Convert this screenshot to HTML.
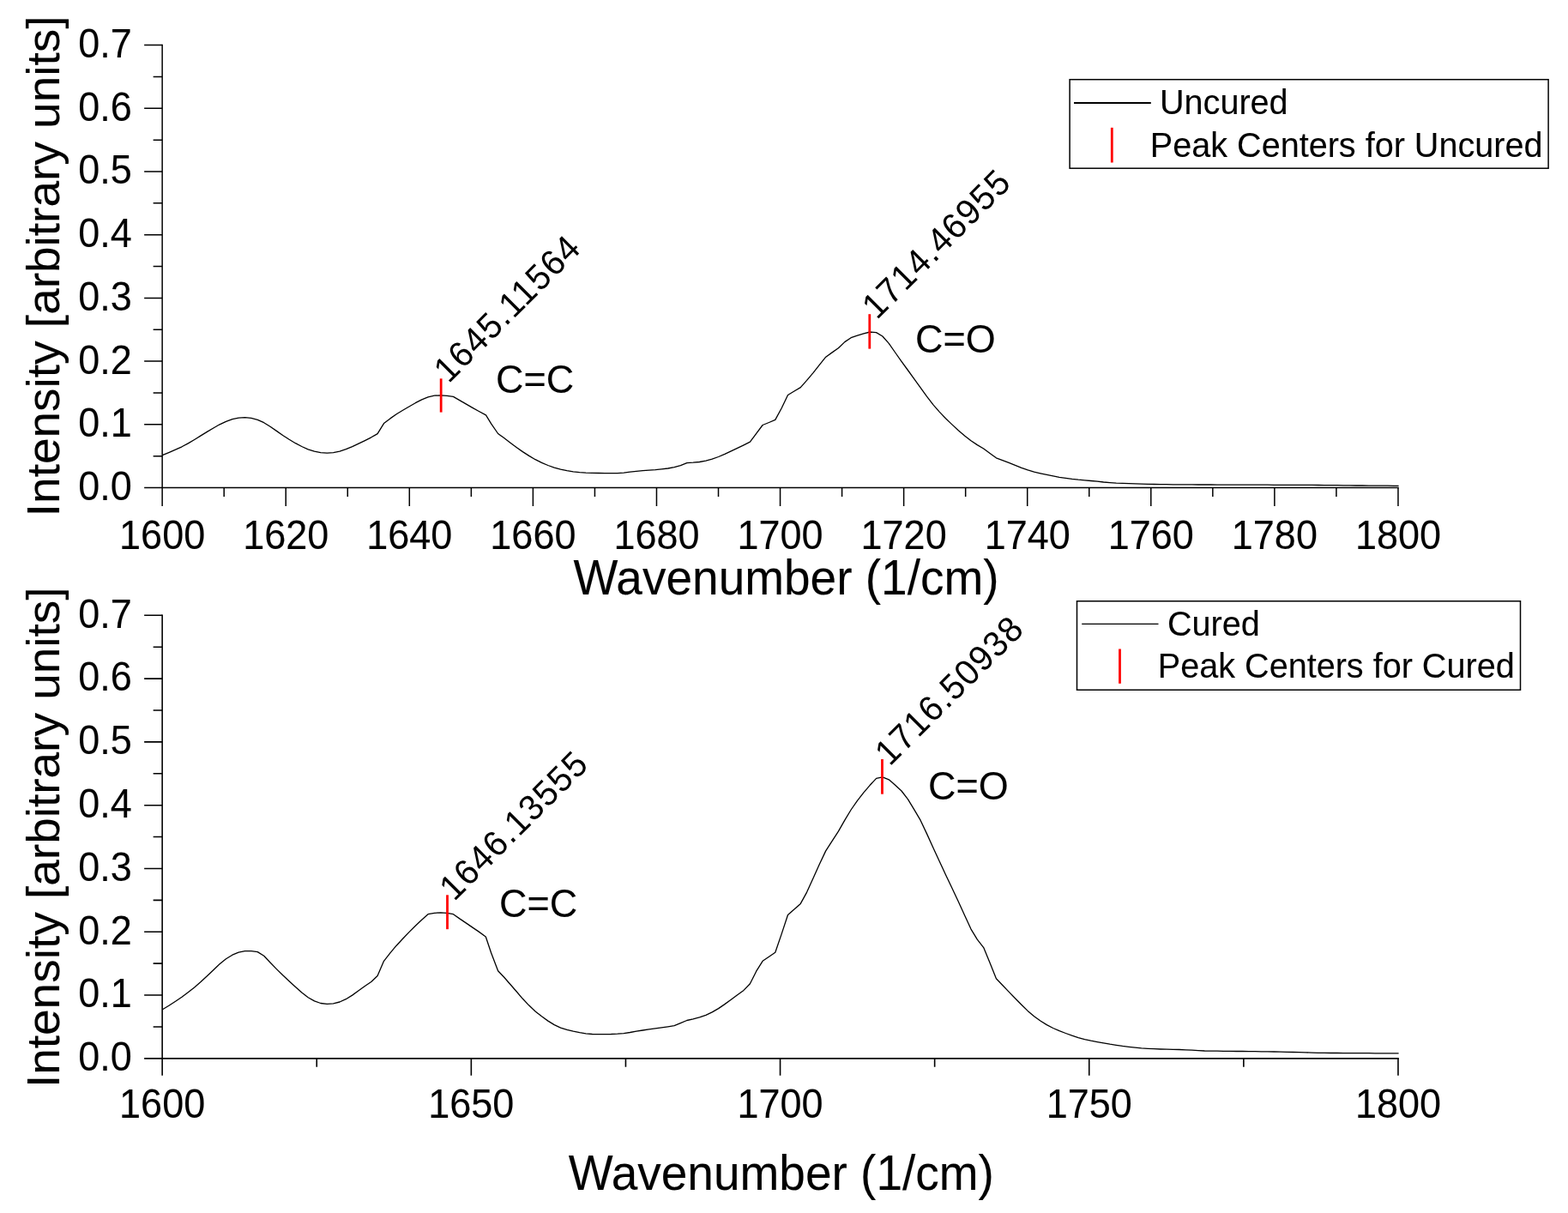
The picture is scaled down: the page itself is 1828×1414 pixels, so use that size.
<!DOCTYPE html>
<html lang="en">
<head>
<meta charset="utf-8">
<title>Raman spectra: Uncured vs Cured</title>
<style>
html,body{margin:0;padding:0;background:#fff;}
body{width:1828px;height:1414px;overflow:hidden;}
svg{display:block;}
svg text{font-family:"Liberation Sans", sans-serif;fill:#000;stroke:#000;stroke-width:0.1px;stroke-linejoin:round;}
</style>
</head>
<body>
<svg width="1828" height="1414" viewBox="0 0 1828 1414">
<rect width="1828" height="1414" fill="#fff"/>
<g id="chart-uncured">
<path d="M189.15 51.85V568.50" stroke="#000" stroke-width="1.5" fill="none"/>
<path d="M168.15 568.50H1630.70" stroke="#000" stroke-width="1.5" fill="none"/>
<path d="M178.65 531.65H189.15M168.15 494.80H189.15M178.65 457.95H189.15M168.15 421.10H189.15M178.65 384.25H189.15M168.15 347.40H189.15M178.65 310.55H189.15M168.15 273.70H189.15M178.65 236.85H189.15M168.15 200.00H189.15M178.65 163.15H189.15M168.15 126.30H189.15M178.65 89.45H189.15M168.15 52.60H189.15" stroke="#000" stroke-width="1.5" fill="none"/>
<path d="M189.15 568.50V589.90M261.19 568.50V579.10M333.23 568.50V589.90M405.27 568.50V579.10M477.31 568.50V589.90M549.35 568.50V579.10M621.39 568.50V589.90M693.43 568.50V579.10M765.47 568.50V589.90M837.51 568.50V579.10M909.55 568.50V589.90M981.59 568.50V579.10M1053.63 568.50V589.90M1125.67 568.50V579.10M1197.71 568.50V589.90M1269.75 568.50V579.10M1341.79 568.50V589.90M1413.83 568.50V579.10M1485.87 568.50V589.90M1557.91 568.50V579.10M1629.95 568.50V589.90" stroke="#000" stroke-width="1.5" fill="none"/>
<g class="y-tick-labels">
<text font-size="45" text-anchor="end" transform="translate(153.70 582.90) scale(1 1.05)">0.0</text>
<text font-size="45" text-anchor="end" transform="translate(153.70 509.20) scale(1 1.05)">0.1</text>
<text font-size="45" text-anchor="end" transform="translate(153.70 435.50) scale(1 1.05)">0.2</text>
<text font-size="45" text-anchor="end" transform="translate(153.70 361.80) scale(1 1.05)">0.3</text>
<text font-size="45" text-anchor="end" transform="translate(153.70 288.10) scale(1 1.05)">0.4</text>
<text font-size="45" text-anchor="end" transform="translate(153.70 214.40) scale(1 1.05)">0.5</text>
<text font-size="45" text-anchor="end" transform="translate(153.70 140.70) scale(1 1.05)">0.6</text>
<text font-size="45" text-anchor="end" transform="translate(153.70 67.00) scale(1 1.05)">0.7</text>
</g>
<g class="x-tick-labels">
<text font-size="45" text-anchor="middle" transform="translate(189.15 639.80) scale(1 1.05)">1600</text>
<text font-size="45" text-anchor="middle" transform="translate(333.23 639.80) scale(1 1.05)">1620</text>
<text font-size="45" text-anchor="middle" transform="translate(477.31 639.80) scale(1 1.05)">1640</text>
<text font-size="45" text-anchor="middle" transform="translate(621.39 639.80) scale(1 1.05)">1660</text>
<text font-size="45" text-anchor="middle" transform="translate(765.47 639.80) scale(1 1.05)">1680</text>
<text font-size="45" text-anchor="middle" transform="translate(909.55 639.80) scale(1 1.05)">1700</text>
<text font-size="45" text-anchor="middle" transform="translate(1053.63 639.80) scale(1 1.05)">1720</text>
<text font-size="45" text-anchor="middle" transform="translate(1197.71 639.80) scale(1 1.05)">1740</text>
<text font-size="45" text-anchor="middle" transform="translate(1341.79 639.80) scale(1 1.05)">1760</text>
<text font-size="45" text-anchor="middle" transform="translate(1485.87 639.80) scale(1 1.05)">1780</text>
<text font-size="45" text-anchor="middle" transform="translate(1629.95 639.80) scale(1 1.05)">1800</text>
</g>
<text font-size="55" transform="translate(668.50 692.90) scale(1 1.03)">Wavenumber (1/cm)</text>
<text font-size="55" transform="translate(68.70 602.20) rotate(-90) scale(1 0.985)">Intensity [arbitrary units]</text>
<path d="M189.2 530.5L189.9 530.3L197.3 527.3L204.6 524.2L212.0 520.8L219.3 516.9L226.7 512.5L234.1 507.9L241.4 503.4L248.8 499.0L256.1 494.8L263.5 491.3L270.9 488.7L278.2 487.2L285.6 486.7L292.9 487.4L300.3 489.3L307.7 492.7L315.0 497.3L322.4 502.4L329.7 507.5L337.1 512.3L344.5 516.7L351.8 520.5L359.2 523.8L366.5 526.2L373.9 527.7L381.3 528.2L388.6 527.6L396.0 526.1L403.3 523.7L410.7 520.7L418.1 517.2L425.4 513.6L432.8 509.8L440.1 505.6L447.5 493.6L454.9 487.9L462.2 482.8L469.6 478.3L476.9 474.0L484.3 469.7L491.7 465.8L499.0 462.8L506.4 461.2L513.7 460.8L521.1 461.3L528.5 462.4L535.8 466.6L543.2 470.9L550.5 475.1L557.9 479.2L566.5 483.9L572.6 493.9L580.6 505.5L587.3 510.3L594.7 515.9L602.1 521.4L609.4 526.6L616.8 531.4L624.1 535.7L631.5 539.4L638.9 542.5L646.2 545.1L653.6 547.1L660.9 548.7L668.3 549.9L675.7 550.7L683.0 551.2L690.4 551.4L697.7 551.5L705.1 551.6L712.5 551.7L719.8 551.6L727.2 551.1L734.5 550.2L741.9 549.3L749.3 548.7L756.6 548.2L764.0 547.7L771.3 546.9L778.7 546.0L786.1 544.7L793.4 542.6L800.8 539.7L808.1 539.2L815.5 538.5L822.9 537.1L830.2 535.1L837.6 532.5L844.9 529.3L852.3 525.8L859.7 522.3L867.0 518.8L874.4 515.2L881.7 505.4L889.1 495.5L896.5 492.5L903.8 489.4L911.2 475.8L918.5 460.5L925.9 456.0L933.3 451.6L940.6 443.4L948.0 434.6L955.3 425.4L962.7 416.2L970.1 410.9L977.4 405.8L984.8 398.6L992.1 393.7L999.5 391.1L1006.9 388.9L1014.2 387.0L1021.6 387.6L1028.9 392.0L1036.3 400.4L1043.7 411.0L1051.0 421.4L1058.4 431.5L1065.7 441.7L1073.1 451.9L1080.5 462.1L1087.8 471.6L1095.2 480.1L1102.5 487.8L1109.9 494.9L1117.3 501.7L1124.6 508.0L1132.0 513.7L1139.3 518.6L1146.7 523.0L1154.1 528.5L1161.4 533.8L1168.8 536.6L1176.1 539.4L1183.5 542.4L1190.9 545.3L1198.2 547.9L1205.6 550.1L1212.9 551.8L1220.3 553.4L1227.7 554.9L1235.0 556.3L1242.4 557.4L1249.7 558.4L1257.1 559.2L1264.5 559.8L1271.8 560.5L1279.2 561.2L1286.5 562.0L1293.9 562.6L1301.3 563.1L1308.6 563.4L1316.0 563.7L1323.3 563.9L1330.7 564.1L1338.1 564.4L1345.4 564.5L1352.8 564.6L1360.1 564.7L1367.5 564.8L1374.9 564.8L1382.2 564.9L1389.6 564.9L1396.9 565.0L1404.3 565.0L1411.7 565.0L1419.0 565.1L1426.4 565.1L1433.7 565.1L1441.1 565.1L1448.5 565.1L1455.8 565.2L1463.2 565.2L1470.5 565.2L1477.9 565.2L1485.3 565.3L1492.6 565.3L1500.0 565.3L1507.3 565.3L1514.7 565.4L1522.1 565.4L1529.4 565.4L1536.8 565.5L1544.1 565.6L1551.5 565.7L1558.9 565.7L1566.2 565.8L1573.6 565.9L1580.9 566.0L1588.3 566.0L1595.7 566.1L1603.0 566.1L1610.4 566.2L1617.7 566.2L1625.1 566.3L1630.6 566.4" stroke="#000" stroke-width="1.3" fill="none" stroke-linejoin="round"/>
<rect x="1247.1" y="92.7" width="558.0" height="103.5" fill="#fff" stroke="#000" stroke-width="1.5"/>
<path d="M1252.0 120.0H1341.8" stroke="#000" stroke-width="1.9"/>
<path d="M1296.3 148.8V189.5" stroke="#f00" stroke-width="2.8"/>
<text font-size="39.6" transform="translate(1352.00 133.30) scale(1 1.03)">Uncured</text>
<text font-size="39.6" transform="translate(1340.80 182.60) scale(1 1.03)">Peak Centers for Uncured</text>
<path d="M514.16 441.3V480.6" stroke="#f00" stroke-width="2.8"/>
<text font-size="40" letter-spacing="1.35" style="stroke-width:0px" transform="translate(522.90 447.80) rotate(-45) scale(1 1.04)">1645.11564</text>
<text font-size="45" transform="translate(578.00 457.50) scale(1 1.03)">C=C</text>
<path d="M1013.79 366.2V406.6" stroke="#f00" stroke-width="2.8"/>
<text font-size="40" letter-spacing="1.35" style="stroke-width:0px" transform="translate(1022.20 373.60) rotate(-45) scale(1 1.04)">1714.46955</text>
<text font-size="45" transform="translate(1067.00 411.00) scale(1 1.03)">C=O</text>
</g>
<g id="chart-cured">
<path d="M189.15 716.50V1233.85" stroke="#000" stroke-width="1.6" fill="none"/>
<path d="M168.15 1233.85H1630.75" stroke="#000" stroke-width="1.6" fill="none"/>
<path d="M178.65 1196.95H189.15M168.15 1160.06H189.15M178.65 1123.16H189.15M168.15 1086.26H189.15M178.65 1049.37H189.15M168.15 1012.47H189.15M178.65 975.57H189.15M168.15 938.68H189.15M178.65 901.78H189.15M168.15 864.89H189.15M178.65 827.99H189.15M168.15 791.09H189.15M178.65 754.20H189.15M168.15 717.30H189.15" stroke="#000" stroke-width="1.6" fill="none"/>
<path d="M189.15 1233.85V1253.85M369.25 1233.85V1243.75M549.35 1233.85V1253.85M729.45 1233.85V1243.75M909.55 1233.85V1253.85M1089.65 1233.85V1243.75M1269.75 1233.85V1253.85M1449.85 1233.85V1243.75M1629.95 1233.85V1253.85" stroke="#000" stroke-width="1.6" fill="none"/>
<g class="y-tick-labels">
<text font-size="45" text-anchor="end" transform="translate(153.70 1248.25) scale(1 1.05)">0.0</text>
<text font-size="45" text-anchor="end" transform="translate(153.70 1174.46) scale(1 1.05)">0.1</text>
<text font-size="45" text-anchor="end" transform="translate(153.70 1100.66) scale(1 1.05)">0.2</text>
<text font-size="45" text-anchor="end" transform="translate(153.70 1026.87) scale(1 1.05)">0.3</text>
<text font-size="45" text-anchor="end" transform="translate(153.70 953.08) scale(1 1.05)">0.4</text>
<text font-size="45" text-anchor="end" transform="translate(153.70 879.29) scale(1 1.05)">0.5</text>
<text font-size="45" text-anchor="end" transform="translate(153.70 805.49) scale(1 1.05)">0.6</text>
<text font-size="45" text-anchor="end" transform="translate(153.70 731.70) scale(1 1.05)">0.7</text>
</g>
<g class="x-tick-labels">
<text font-size="45" text-anchor="middle" transform="translate(189.15 1303.10) scale(1 1.05)">1600</text>
<text font-size="45" text-anchor="middle" transform="translate(549.35 1303.10) scale(1 1.05)">1650</text>
<text font-size="45" text-anchor="middle" transform="translate(909.55 1303.10) scale(1 1.05)">1700</text>
<text font-size="45" text-anchor="middle" transform="translate(1269.75 1303.10) scale(1 1.05)">1750</text>
<text font-size="45" text-anchor="middle" transform="translate(1629.95 1303.10) scale(1 1.05)">1800</text>
</g>
<text font-size="55" transform="translate(662.80 1386.70) scale(1 1.03)">Wavenumber (1/cm)</text>
<text font-size="55" transform="translate(69.20 1268.10) rotate(-90) scale(1 0.985)">Intensity [arbitrary units]</text>
<path d="M189.2 1176.9L189.9 1176.5L197.3 1172.0L204.6 1167.3L212.0 1162.3L219.3 1156.8L226.7 1150.9L234.1 1144.5L241.4 1137.8L248.8 1130.7L256.1 1123.7L263.5 1117.7L270.9 1113.2L278.2 1110.2L285.6 1108.6L292.9 1108.6L300.3 1109.6L307.7 1114.3L315.0 1122.0L322.4 1129.6L329.7 1136.8L337.1 1143.7L344.5 1150.5L351.8 1157.0L359.2 1162.7L366.5 1166.9L373.9 1169.5L381.3 1170.4L388.6 1169.9L396.0 1168.0L403.3 1164.7L410.7 1160.1L418.1 1154.8L425.4 1149.5L432.8 1144.5L440.1 1137.5L447.5 1120.3L454.9 1110.9L462.2 1102.2L469.6 1094.3L476.9 1086.6L484.3 1079.2L491.7 1072.2L499.0 1065.7L506.4 1064.3L513.7 1063.8L521.1 1064.4L528.5 1065.7L535.8 1070.9L543.2 1075.9L550.5 1080.9L557.9 1085.9L566.3 1092.0L572.6 1110.8L580.6 1131.8L587.3 1138.8L594.7 1147.3L602.1 1155.8L609.4 1164.3L616.8 1172.1L624.1 1178.9L631.5 1184.8L638.9 1190.1L646.2 1194.6L653.6 1198.1L660.9 1200.4L668.3 1202.2L675.7 1203.7L683.0 1204.9L690.4 1205.5L697.7 1205.7L705.1 1205.6L712.5 1205.5L719.8 1205.2L727.2 1204.6L734.5 1203.5L741.9 1202.2L749.3 1201.0L756.6 1199.9L764.0 1198.9L771.3 1197.8L778.7 1196.8L786.1 1195.7L793.4 1192.7L800.8 1189.5L808.1 1187.9L815.5 1185.9L822.9 1183.3L830.2 1179.9L837.6 1175.6L844.9 1170.6L852.3 1165.2L859.7 1159.8L867.0 1154.4L874.4 1146.7L881.7 1132.2L889.1 1120.3L896.5 1115.3L903.8 1110.2L911.2 1088.6L918.5 1066.5L925.9 1060.1L933.3 1053.4L940.6 1040.1L948.0 1023.7L955.3 1007.6L962.7 991.9L970.1 980.4L977.4 969.1L984.8 956.1L992.1 944.0L999.5 933.4L1006.9 923.8L1014.2 915.3L1021.6 907.4L1028.9 905.9L1036.3 908.8L1043.7 915.2L1051.0 922.0L1058.4 931.6L1065.7 943.7L1073.1 956.2L1080.5 971.9L1087.8 988.0L1095.2 1004.0L1102.5 1019.7L1109.9 1035.3L1117.3 1051.0L1124.6 1067.0L1132.0 1083.1L1139.3 1095.2L1146.7 1104.6L1154.1 1122.6L1161.4 1140.7L1168.8 1148.5L1176.1 1156.1L1183.5 1163.7L1190.9 1171.2L1198.2 1178.4L1205.6 1184.7L1212.9 1190.0L1220.3 1194.6L1227.7 1198.5L1235.0 1201.7L1242.4 1204.5L1249.7 1207.2L1257.1 1209.6L1264.5 1211.6L1271.8 1213.2L1279.2 1214.6L1286.5 1215.9L1293.9 1217.2L1301.3 1218.3L1308.6 1219.4L1316.0 1220.3L1323.3 1221.1L1330.7 1221.8L1338.1 1222.3L1345.4 1222.7L1352.8 1223.0L1360.1 1223.2L1367.5 1223.4L1374.9 1223.5L1382.2 1223.8L1389.6 1224.1L1396.9 1224.6L1404.3 1225.0L1411.7 1225.1L1419.0 1225.2L1426.4 1225.3L1433.7 1225.4L1441.1 1225.5L1448.5 1225.5L1455.8 1225.6L1463.2 1225.7L1470.5 1225.8L1477.9 1225.9L1485.3 1226.0L1492.6 1226.1L1500.0 1226.3L1507.3 1226.5L1514.7 1226.7L1522.1 1226.9L1529.4 1227.1L1536.8 1227.3L1544.1 1227.4L1551.5 1227.5L1558.9 1227.5L1566.2 1227.6L1573.6 1227.6L1580.9 1227.7L1588.3 1227.7L1595.7 1227.7L1603.0 1227.8L1610.4 1227.8L1617.7 1227.9L1625.1 1227.9L1630.6 1227.9" stroke="#000" stroke-width="1.3" fill="none" stroke-linejoin="round"/>
<rect x="1255.5" y="700.75" width="517.0" height="103.5" fill="#fff" stroke="#000" stroke-width="1.5"/>
<path d="M1261.2 727.3H1350.5" stroke="#000" stroke-width="1.3"/>
<path d="M1305.5 756.5V796.8" stroke="#f00" stroke-width="2.8"/>
<text font-size="39.6" transform="translate(1361.00 741.00) scale(1 1.03)">Cured</text>
<text font-size="39.6" transform="translate(1349.80 790.00) scale(1 1.03)">Peak Centers for Cured</text>
<path d="M521.51 1043.3V1083.2" stroke="#f00" stroke-width="2.8"/>
<text font-size="40" letter-spacing="1.35" style="stroke-width:0px" transform="translate(529.40 1051.50) rotate(-45) scale(1 1.04)">1646.13555</text>
<text font-size="45" transform="translate(582.00 1068.60) scale(1 1.03)">C=C</text>
<path d="M1028.48 885.0V925.7" stroke="#f00" stroke-width="2.8"/>
<text font-size="40" letter-spacing="1.35" style="stroke-width:0px" transform="translate(1037.20 894.00) rotate(-45) scale(1 1.04)">1716.50938</text>
<text font-size="45" transform="translate(1082.00 932.30) scale(1 1.03)">C=O</text>
</g>
</svg>
</body>
</html>
